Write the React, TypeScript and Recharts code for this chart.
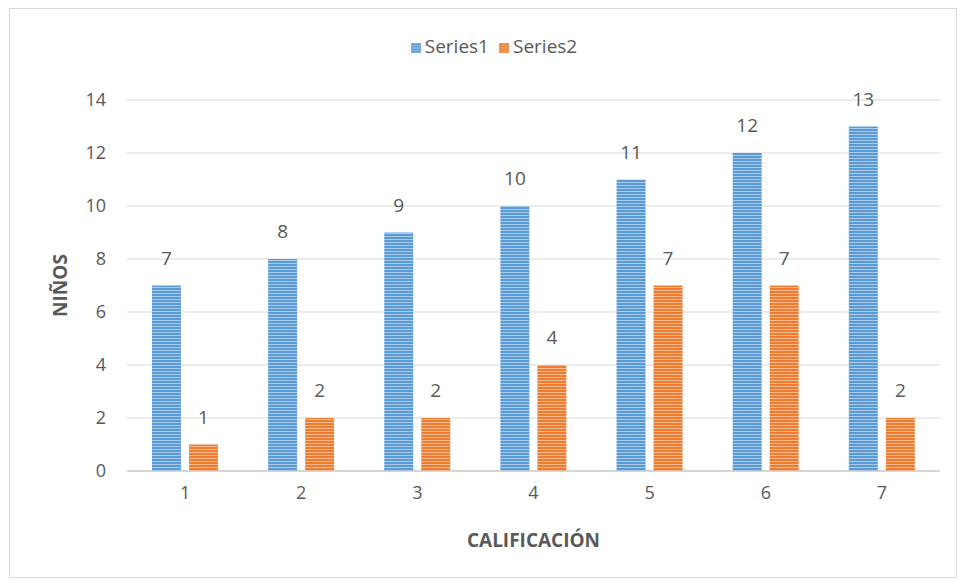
import React from 'react';
import { BarChart, Bar, XAxis, YAxis, CartesianGrid, Legend, LabelList } from 'recharts';

const categories = ['1', '2', '3', '4', '5', '6', '7'];
const series1 = [7, 8, 9, 10, 11, 12, 13];
const series2 = [1, 2, 2, 4, 7, 7, 2];
const yTicks = [0, 2, 4, 6, 8, 10, 12, 14];

const data = categories.map((c, i) => ({ name: c, Series1: series1[i], Series2: series2[i] }));

const font = '"Open Sans", "Noto Sans", sans-serif';
const textColor = '#595959';

export default function App() {
    return (
        <div style={{ position: 'absolute', left: 0, top: 0, width: 965, height: 580, background: '#fff', fontFamily: font }}>
            <div style={{ position: 'absolute', left: 9, top: 8, width: 946, height: 568, border: '1px solid #d9d9d9' }} />
            <BarChart
                width={965}
                height={580}
                data={data}
                margin={{ top: 76, right: 25, bottom: 29, left: 58 }}
                barCategoryGap="21.5%"
                barGap={8}
            >
                <defs>
                    <pattern id="stripeBlue" width="4" height="3" patternUnits="userSpaceOnUse">
                        <rect width="4" height="3" fill="#5b9bd5" />
                        <rect y="2" width="4" height="1" fill="#a9cbea" />
                    </pattern>
                    <pattern id="stripeOrange" width="4" height="3" patternUnits="userSpaceOnUse">
                        <rect width="4" height="3" fill="#ed7d31" />
                        <rect y="2" width="4" height="1" fill="#f6b98e" />
                    </pattern>
                </defs>
                <Legend
                    verticalAlign="top"
                    align="center"
                    iconType="square"
                    iconSize={10}
                    wrapperStyle={{ fontSize: 19, color: textColor, top: 34, lineHeight: '24px' }}
                    payload={[
                        { value: 'Series1', type: 'square', color: '#5b9bd5' },
                        { value: 'Series2', type: 'square', color: '#ed7d31' },
                    ]}
                    formatter={(v: string) => <span style={{ color: textColor }}>{v}</span>}
                />
                <CartesianGrid vertical={false} stroke="#d9d9d9" />
                <XAxis
                    dataKey="name"
                    height={80}
                    tickLine={false}
                    axisLine={{ stroke: '#bfbfbf' }}
                    tick={{ fill: textColor, fontSize: 18 }}
                    tickMargin={9}
                    label={{ value: 'CALIFICACIÓN', position: 'insideBottom', offset: 4, fill: textColor, fontSize: 19, fontWeight: 'bold' }}
                />
                <YAxis
                    domain={[0, 14]}
                    ticks={yTicks}
                    width={69}
                    tickLine={false}
                    axisLine={false}
                    tick={{ fill: textColor, fontSize: 18 }}
                    tickMargin={15}
                    label={{ value: 'NIÑOS', angle: -90, position: 'insideLeft', offset: 2, fill: textColor, fontSize: 19, fontWeight: 'bold', style: { textAnchor: 'middle' } }}
                />
                <Bar dataKey="Series1" fill="url(#stripeBlue)" isAnimationActive={false}>
                    <LabelList dataKey="Series1" position="top" offset={21} fill={textColor} fontSize={19} />
                </Bar>
                <Bar dataKey="Series2" fill="url(#stripeOrange)" isAnimationActive={false}>
                    <LabelList dataKey="Series2" position="top" offset={21} fill={textColor} fontSize={19} />
                </Bar>
            </BarChart>
        </div>
    );
}
